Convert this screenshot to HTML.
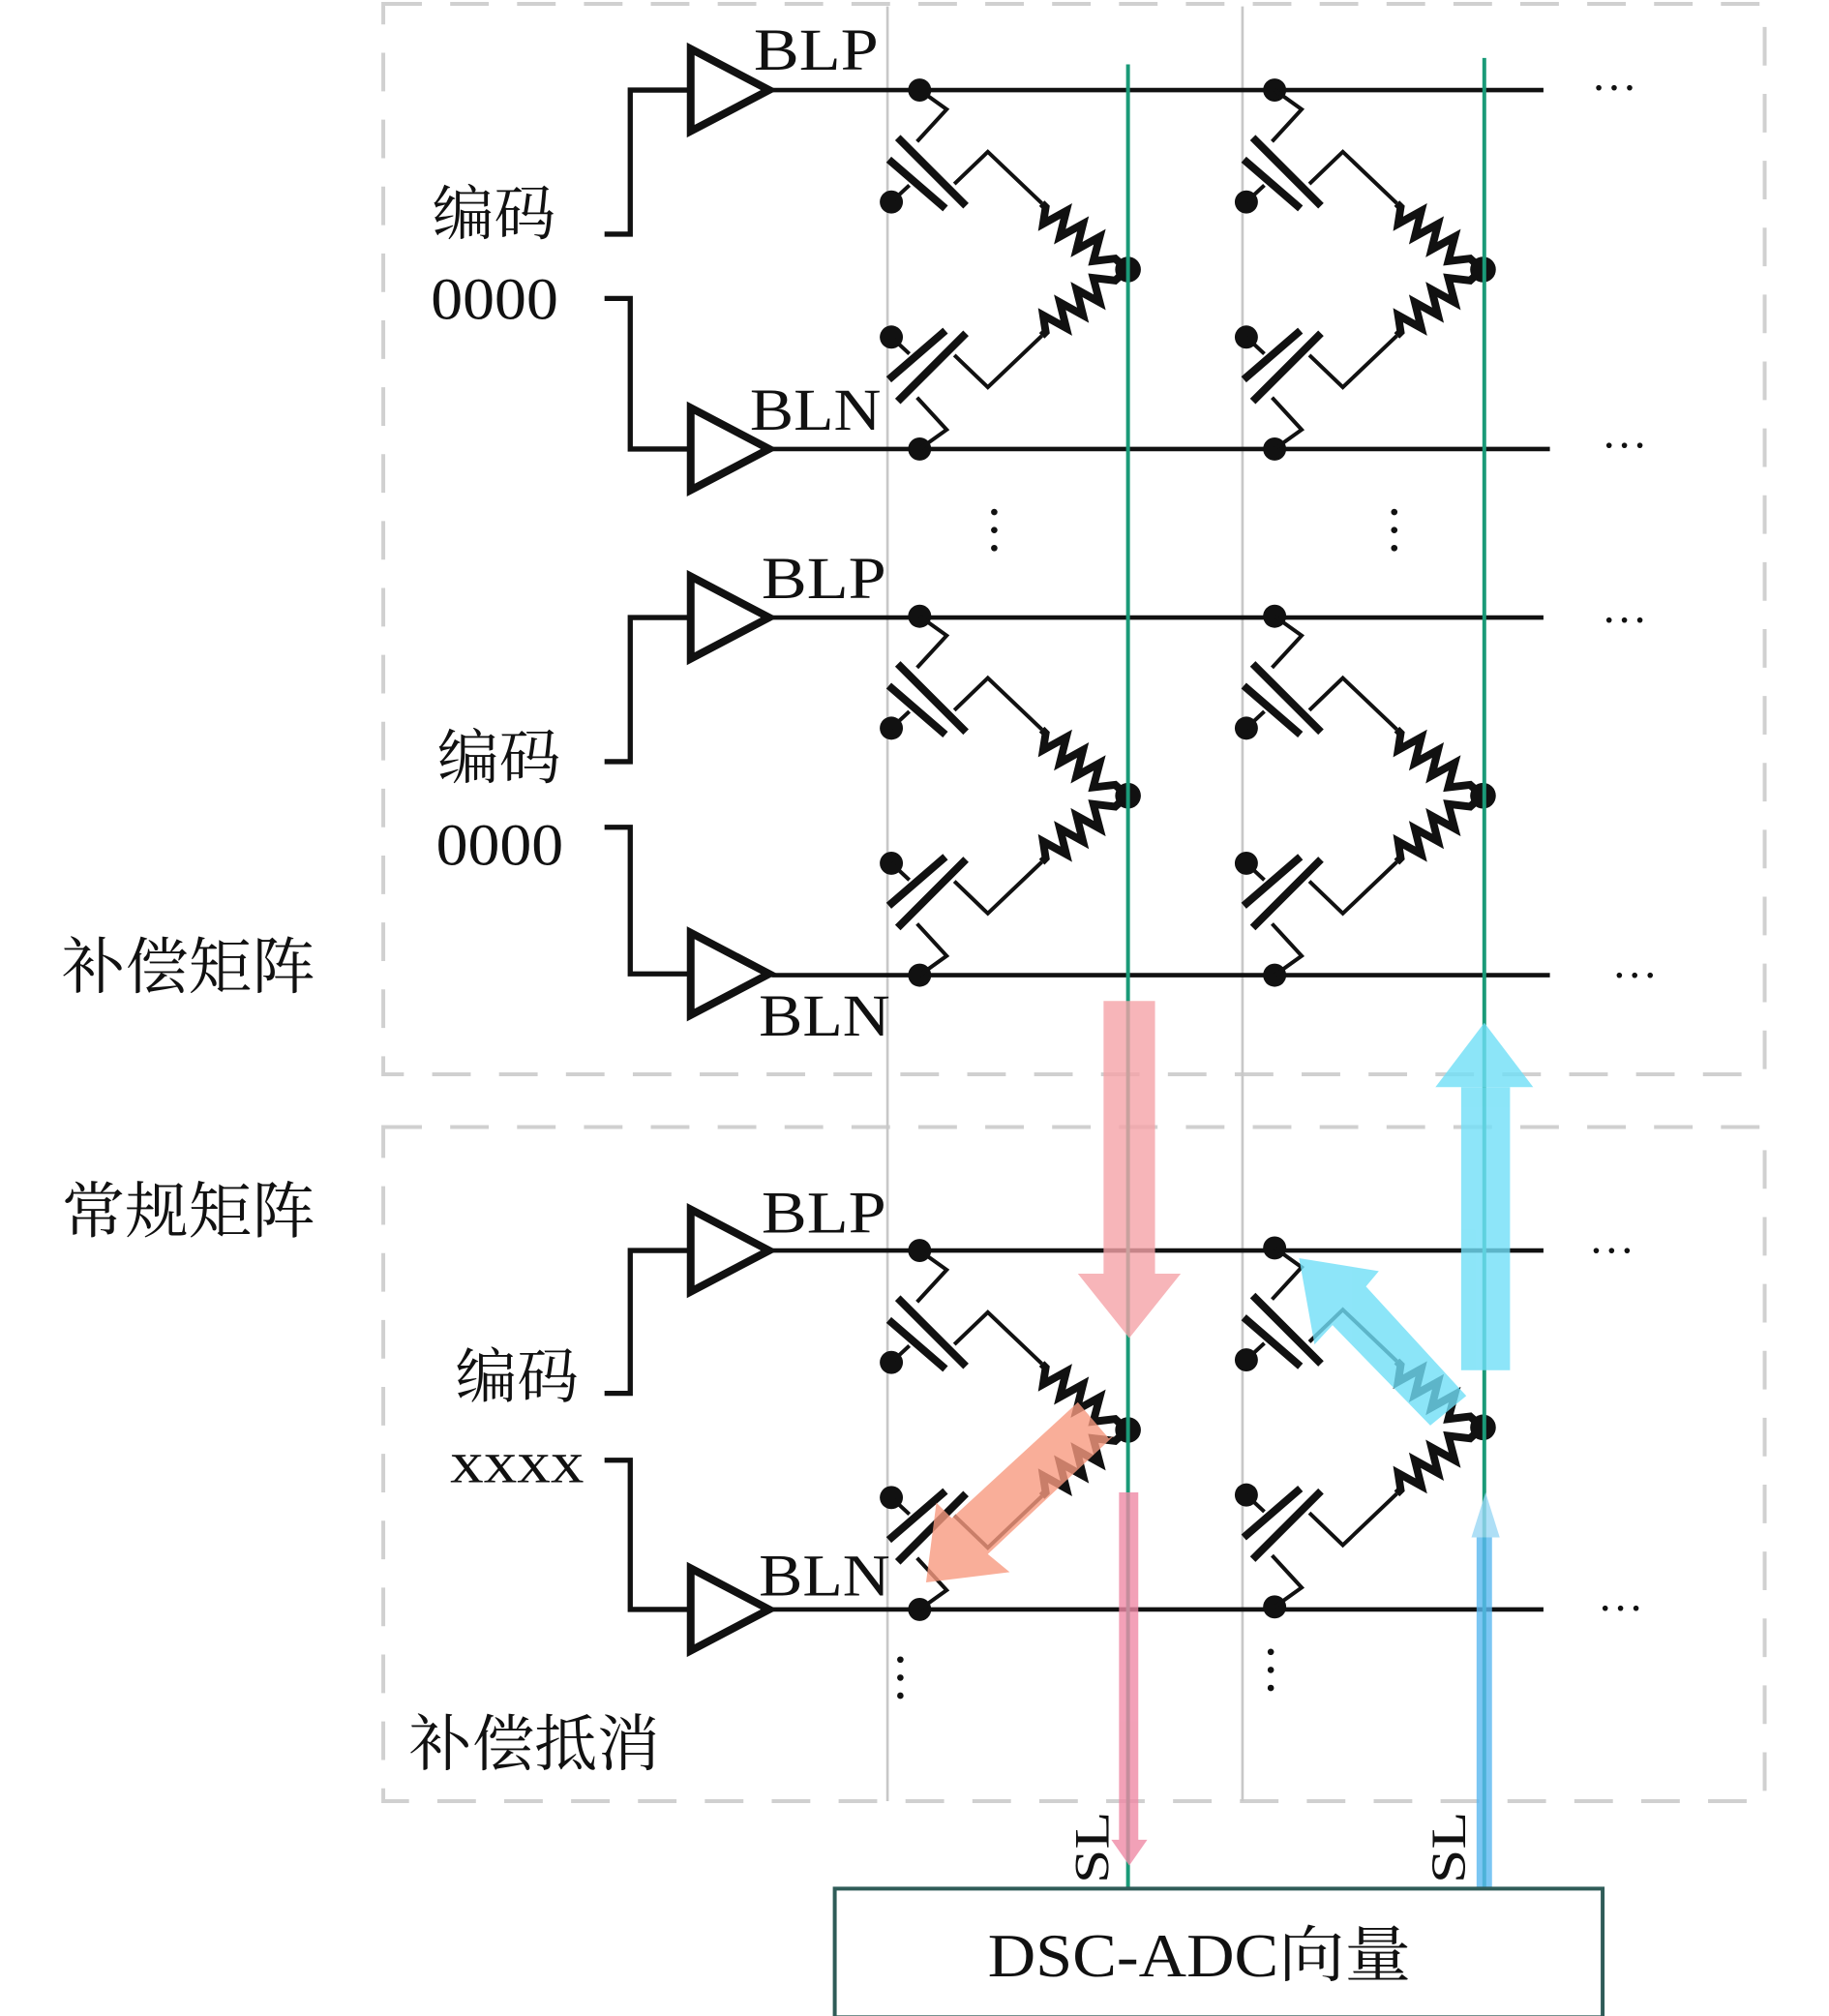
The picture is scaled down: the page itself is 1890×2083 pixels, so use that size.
<!DOCTYPE html>
<html><head><meta charset="utf-8"><style>
html,body{margin:0;padding:0;background:#fff;}
svg{display:block;}
text{font-family:"Liberation Serif","Noto Serif CJK SC","Noto Sans CJK SC",serif;fill:#111;}
</style></head><body>
<svg width="1890" height="2083" viewBox="0 0 1422 1567" preserveAspectRatio="none" xmlns="http://www.w3.org/2000/svg">
<defs>
<g id="half" fill="none" stroke="#111" stroke-linejoin="miter">
  <circle cx="0" cy="0" r="9" fill="#111" stroke="none"/>
  <polyline points="0,0 21,15 -2,40" stroke-width="3"/>
  <line x1="-17" y1="37" x2="36" y2="90" stroke-width="6"/>
  <line x1="-24" y1="54" x2="20" y2="92" stroke-width="6"/>
  <circle cx="-22" cy="87" r="9" fill="#111" stroke="none"/>
  <line x1="-22" y1="87" x2="-8" y2="74" stroke-width="3"/>
  <polyline points="27,73 53,48 95,88" stroke-width="3"/>
  <polyline points="95,88 98,91 96,104 114,94 109,114 127,104 122,124 140,114 135,133 152,131 162,140" stroke-width="6"/>
</g>
<g id="cell">
  <use href="#half"/>
  <g transform="translate(0,279) scale(1,-1)"><use href="#half"/></g>
  <circle cx="162" cy="139.5" r="10" fill="#111"/>
</g>
</defs>

<rect x="298" y="3" width="1074" height="832" fill="none" stroke="#d0d0d0" stroke-width="3" stroke-dasharray="30,22"/>
<rect x="298" y="876" width="1074" height="524" fill="none" stroke="#d0d0d0" stroke-width="3" stroke-dasharray="30,22"/>

<line x1="690" y1="5" x2="690" y2="1400" stroke="#c8c8c8" stroke-width="2"/>
<line x1="966" y1="5" x2="966" y2="1400" stroke="#c8c8c8" stroke-width="2"/>

<g stroke="#111" fill="none">
  <line x1="600" y1="70" x2="1200" y2="70" stroke-width="3.5"/>
  <line x1="600" y1="349" x2="1205" y2="349" stroke-width="3.5"/>
  <line x1="600" y1="480" x2="1200" y2="480" stroke-width="3.5"/>
  <line x1="600" y1="758" x2="1205" y2="758" stroke-width="3.5"/>
  <line x1="600" y1="972" x2="1200" y2="972" stroke-width="3.5"/>
  <line x1="600" y1="1251" x2="1200" y2="1251" stroke-width="3.5"/>
  <polyline points="535,70 490,70 490,182 470,182" stroke-width="4"/>
  <polyline points="470,232 490,232 490,349 535,349" stroke-width="4"/>
  <polyline points="535,480 490,480 490,592 470,592" stroke-width="4"/>
  <polyline points="470,643 490,643 490,757 535,757" stroke-width="4"/>
  <polyline points="535,972 490,972 490,1083 470,1083" stroke-width="4"/>
  <polyline points="470,1135 490,1135 490,1251 535,1251" stroke-width="4"/>
  <polygon points="537,38 537,102 598,70" stroke-width="6"/>
  <polygon points="537,317 537,381 598,349" stroke-width="6"/>
  <polygon points="537,448 537,512 598,480" stroke-width="6"/>
  <polygon points="537,725 537,789 598,757" stroke-width="6"/>
  <polygon points="537,940 537,1004 598,972" stroke-width="6"/>
  <polygon points="537,1219 537,1283 598,1251" stroke-width="6"/>
</g>

<use href="#cell" transform="translate(715,70)"/>
<use href="#cell" transform="translate(991,70)"/>
<use href="#cell" transform="translate(715,479)"/>
<use href="#cell" transform="translate(991,479)"/>
<use href="#cell" transform="translate(715,972)"/>
<use href="#cell" transform="translate(991,970)"/>

<line x1="877" y1="50" x2="877" y2="1468" stroke="#1a9a78" stroke-width="3"/>
<line x1="1154" y1="45" x2="1154" y2="1468" stroke="#1a9a78" stroke-width="3"/>

<g opacity="0.8">
  <polygon points="858,778 898,778 898,990 918,990 878,1040 838,990 858,990" fill="#f5a3a8"/>
  <rect x="870" y="1160" width="15" height="275" fill="#f08aa6"/>
  <polygon points="864,1430 892,1430 878,1450" fill="#f08aa6"/>
  <polygon points="862,1118 838,1090 740,1180 728,1168 720,1230 785,1222 768,1208 866,1116" fill="#f79a80"/>
  <polygon points="1136,845 1174,845 1174,1065 1136,1065" fill="#70dff7"/>
  <polygon points="1116,845 1192,845 1154,795" fill="#70dff7"/>
  <rect x="1148" y="1190" width="12" height="278" fill="#5ab8f0"/>
  <polygon points="1144,1195 1166,1195 1155,1160" fill="#9ad8f5"/>
  <polygon points="1140,1085 1112,1108 1036,1030 1022,1045 1010,978 1072,988 1062,1000" fill="#70dff7"/>
</g>

<g font-size="46">
<text x="586" y="54" textLength="97" lengthAdjust="spacingAndGlyphs">BLP</text>
<text x="583" y="334" textLength="102" lengthAdjust="spacingAndGlyphs">BLN</text>
<text x="592" y="465" textLength="97" lengthAdjust="spacingAndGlyphs">BLP</text>
<text x="590" y="805" textLength="102" lengthAdjust="spacingAndGlyphs">BLN</text>
<text x="592" y="958" textLength="97" lengthAdjust="spacingAndGlyphs">BLP</text>
<text x="590" y="1240" textLength="102" lengthAdjust="spacingAndGlyphs">BLN</text>
<text x="336" y="182" font-family="Noto Serif CJK SC, serif" textLength="96" lengthAdjust="spacingAndGlyphs">编码</text>
<text x="335" y="248" textLength="99" lengthAdjust="spacingAndGlyphs">0000</text>
<text x="340" y="605" font-family="Noto Serif CJK SC, serif" textLength="96" lengthAdjust="spacingAndGlyphs">编码</text>
<text x="339" y="672" textLength="99" lengthAdjust="spacingAndGlyphs">0000</text>
<text x="354" y="1086" font-family="Noto Serif CJK SC, serif" textLength="96" lengthAdjust="spacingAndGlyphs">编码</text>
<text x="350" y="1152" textLength="104" lengthAdjust="spacingAndGlyphs">xxxx</text>
</g>
<g font-size="48">
<text x="48" y="768" font-family="Noto Serif CJK SC, serif" textLength="197" lengthAdjust="spacingAndGlyphs">补偿矩阵</text>
<text x="48" y="958" font-family="Noto Serif CJK SC, serif" textLength="197" lengthAdjust="spacingAndGlyphs">常规矩阵</text>
<text x="318" y="1372" font-family="Noto Serif CJK SC, serif" textLength="195" lengthAdjust="spacingAndGlyphs">补偿抵消</text>
</g>
<g font-size="36">
<text x="1237" y="80">···</text>
<text x="1245" y="358">···</text>
<text x="1245" y="494">···</text>
<text x="1253" y="770">···</text>
<text x="1235" y="984">···</text>
<text x="1242" y="1262">···</text>
</g>
<g fill="#111">
<circle cx="773" cy="398" r="2.5"/><circle cx="773" cy="412" r="2.5"/><circle cx="773" cy="426" r="2.5"/>
<circle cx="1084" cy="398" r="2.5"/><circle cx="1084" cy="412" r="2.5"/><circle cx="1084" cy="426" r="2.5"/>
<circle cx="700" cy="1290" r="2.5"/><circle cx="700" cy="1304" r="2.5"/><circle cx="700" cy="1318" r="2.5"/>
<circle cx="988" cy="1284" r="2.5"/><circle cx="988" cy="1298" r="2.5"/><circle cx="988" cy="1312" r="2.5"/>
</g>
<text x="0" y="0" font-size="38" transform="translate(862,1464) rotate(-90)" textLength="56" lengthAdjust="spacingAndGlyphs">SL</text>
<text x="0" y="0" font-size="38" transform="translate(1139,1464) rotate(-90)" textLength="56" lengthAdjust="spacingAndGlyphs">SL</text>

<rect x="649" y="1468" width="597" height="100" fill="#fff" stroke="#2f5c58" stroke-width="3"/>
<text x="768" y="1536" font-size="48" textLength="329" lengthAdjust="spacingAndGlyphs">DSC-ADC<tspan font-family="Noto Serif CJK SC, serif">向量</tspan></text>
</svg>
</body></html>
